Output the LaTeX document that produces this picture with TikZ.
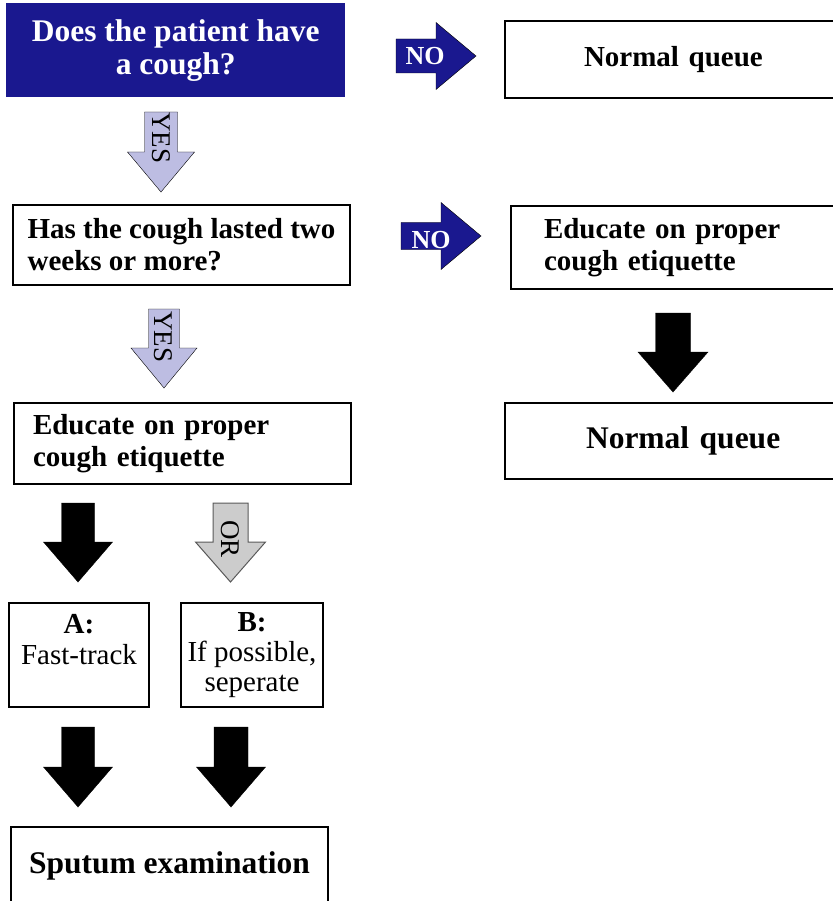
\documentclass[tikz,border=0pt]{standalone}
\usepackage{fontspec}
\setmainfont{Liberation Serif}
\definecolor{navy}{RGB}{26,24,143}
\definecolor{lavender}{RGB}{189,189,226}
\definecolor{orgray}{RGB}{204,204,204}
% block arrow: style, tail point, angle, body length, body half width, head half width
\newcommand{\blkarrow}[6]{%
  \draw[#1, shift={#2}, rotate=#3] (0,-#5) -- (#4,-#5) -- (#4,-#6) -- (#4+40,0) -- (#4,#6) -- (#4,#5) -- (0,#5) -- cycle;}
\begin{document}
\begin{tikzpicture}[x=1pt, y=1pt,
    box/.style={draw, line width=2pt, anchor=north west, align=left, inner ysep=0pt},
    big/.style={font=\bfseries\fontsize{31.5}{33}\selectfont},
    mid/.style={font=\bfseries\fontsize{29}{32}\selectfont},
    arrowtxt/.style={font=\fontsize{27}{27}\selectfont, rotate=-90, inner sep=0pt},
    notxt/.style={font=\bfseries\fontsize{26}{26}\selectfont, text=white, anchor=base, inner sep=0pt},
    yesarrow/.style={fill=lavender},
    noarrow/.style={fill=navy},
    blackarrow/.style={fill=black},
    orarrow/.style={fill=orgray, draw=gray!70!black, line width=1pt}]
  \useasboundingbox (0,0) rectangle (832,-901); % page size
    % left column
  \node[anchor=north west, fill=navy, text=white, big, align=center, minimum width=339pt, minimum height=94pt] (cough) at (6,-3) {Does the patient have\\a cough?};
  \node[box, mid, inner xsep=0pt, minimum width=337pt, minimum height=80pt] (lasted) at (12,-204) {Has the cough lasted two\\weeks or more?};
  \node[box, mid, inner xsep=19pt, text width=299pt, minimum height=81pt] (educateL) at (13,-402) {Educate on proper\\cough etiquette};
  \node[box, align=center, font=\fontsize{29}{31}\selectfont, minimum width=140pt, minimum height=104pt] (trackA) at (8,-602) {\textbf{A:}\\Fast-track\\~};
  \node[box, align=center, font=\fontsize{29}{30}\selectfont, minimum width=142pt, minimum height=104pt] (separateB) at (180,-602) {\textbf{B:}\\If possible,\\seperate};
  \node[box, big, align=center, minimum width=317pt, minimum height=78pt] (sputum) at (10,-826) {Sputum examination};
    % right column
  \node[box, mid, inner xsep=79pt, text width=260pt, minimum height=77pt] (normalT) at (504,-20) {Normal queue};
  \node[box, mid, inner xsep=33pt, text width=300pt, minimum height=83pt] (educateR) at (510,-205) {Educate on proper\\cough etiquette};
  \node[box, big, inner xsep=81pt, text width=250pt, minimum height=76pt] (normalB) at (504,-402) {Normal queue};
    % arrows
  \blkarrow{noarrow}{(396,-56)}{0}{40}{17}{33.5}
  \node[notxt] (no1) at (425,-65) {NO};
  \blkarrow{noarrow}{(401,-236)}{0}{40}{13.5}{33.5}
  \node[notxt] (no2) at (431,-248) {NO};
  \blkarrow{yesarrow}{(161,-112)}{-90}{40}{16.5}{33.5}
  \node[arrowtxt] (yes1) at (161,-138) {YES};
  \blkarrow{yesarrow}{(164,-309)}{-90}{39}{15.5}{33}
  \node[arrowtxt] (yes2) at (163,-337) {YES};
  \blkarrow{blackarrow}{(673,-313)}{-90}{39}{17.5}{35}
  \blkarrow{blackarrow}{(78,-503)}{-90}{39}{16.5}{34.5}
  \blkarrow{orarrow}{(230.5,-503)}{-90}{39}{17.5}{35}
  \node[arrowtxt] (or) at (230,-539) {OR};
  \blkarrow{blackarrow}{(78,-727)}{-90}{40}{16.5}{34.5}
  \blkarrow{blackarrow}{(231,-727)}{-90}{40}{17}{34.5}
\end{tikzpicture}
\end{document}
